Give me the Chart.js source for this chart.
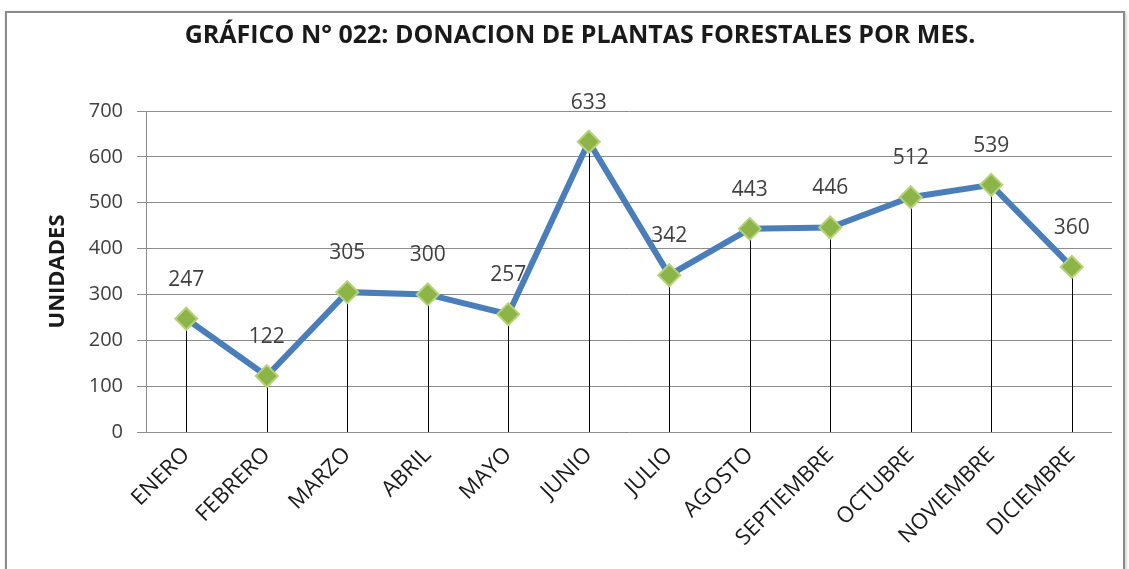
<!DOCTYPE html>
<html>
<head>
<meta charset="utf-8">
<script src="https://cdn.jsdelivr.net/npm/chart.js@4.4.1/dist/chart.umd.min.js"></script>
<style>
  html, body { margin: 0; padding: 0; background: #ffffff; }
  #wrap { position: relative; width: 1129px; height: 569px; overflow: hidden; }
  #frame { position: absolute; left: 5px; top: 11px; width: 1120px; height: 570px; border: 2px solid #8a8a8a; box-shadow: 1px 1px 3px rgba(0,0,0,0.25); box-sizing: border-box; }
  canvas { position: absolute; left: 0; top: 0; }
</style>
</head>
<body>
<div id="wrap">
  <div id="frame"></div>
  <canvas id="c" width="1129" height="569"></canvas>
</div>
<script>
const chartTitle = 'GRÁFICO N° 022: DONACION DE PLANTAS FORESTALES POR MES.';
const yAxisTitle = 'UNIDADES';
const months = ['ENERO','FEBRERO','MARZO','ABRIL','MAYO','JUNIO','JULIO','AGOSTO','SEPTIEMBRE','OCTUBRE','NOVIEMBRE','DICIEMBRE'];
const units = [247, 122, 305, 300, 257, 633, 342, 443, 446, 512, 539, 360];
const yTicks = [0, 100, 200, 300, 400, 500, 600, 700];

const FONT = "'Open Sans', 'Liberation Sans', sans-serif";

const dropLinesAndLabels = {
  id: 'dropLinesAndLabels',
  beforeDatasetsDraw(chart) {
    const ctx = chart.ctx;
    const meta = chart.getDatasetMeta(0);
    const yBase = chart.scales.y.getPixelForValue(0);
    ctx.save();
    ctx.strokeStyle = '#000000';
    ctx.lineWidth = 1;
    meta.data.forEach(pt => {
      const x = Math.round(pt.x) + 0.5;
      ctx.beginPath();
      ctx.moveTo(x, pt.y);
      ctx.lineTo(x, yBase);
      ctx.stroke();
    });
    ctx.restore();
  },
  afterDatasetsDraw(chart) {
    const ctx = chart.ctx;
    const meta = chart.getDatasetMeta(0);
    const vals = chart.data.datasets[0].data;
    ctx.save();
    ctx.font = "21px " + FONT;
    ctx.fillStyle = '#404040';
    ctx.textAlign = 'center';
    ctx.textBaseline = 'middle';
    meta.data.forEach((pt, i) => {
      ctx.fillText(String(vals[i]), pt.x, pt.y - 39);
    });
    ctx.restore();
  }
};

new Chart(document.getElementById('c'), {
  type: 'line',
  data: {
    labels: months,
    datasets: [{
      data: units,
      borderColor: '#4A7EBB',
      borderWidth: 6,
      tension: 0,
      pointStyle: 'rectRot',
      pointRadius: 11,
      pointHoverRadius: 11,
      pointBackgroundColor: '#8DB446',
      pointBorderColor: '#B5D37A',
      pointBorderWidth: 2
    }]
  },
  options: {
    responsive: false,
    animation: false,
    events: [],
    layout: { padding: { left: 48, right: 17, top: 0, bottom: 0 } },
    plugins: {
      legend: { display: false },
      tooltip: { enabled: false },
      title: {
        display: true,
        text: chartTitle,
        color: '#1a1a1a',
        font: { family: FONT, size: 25, weight: 'bold' },
        padding: { top: 21, bottom: 60 }
      }
    },
    scales: {
      x: {
        offset: true,
        grid: { display: false, drawTicks: false, offset: true },
        border: { display: false },
        ticks: {
          color: '#1a1a1a',
          font: { family: FONT, size: 22 },
          minRotation: 45,
          maxRotation: 45,
          padding: 10,
          autoSkip: false
        },
        afterFit(scale) { scale.height = 137; }
      },
      y: {
        min: 0,
        max: 700,
        afterBuildTicks(scale) { scale.ticks = yTicks.map(v => ({ value: v })); },
        grid: { color: '#8c8c8c', lineWidth: 1, drawTicks: true, tickLength: 9 },
        border: { display: true, color: '#8c8c8c', width: 1 },
        ticks: {
          color: '#404040',
          font: { family: FONT, size: 20 },
          padding: 14
        },
        title: {
          display: true,
          text: yAxisTitle,
          color: '#1a1a1a',
          font: { family: FONT, size: 22, weight: 'bold', lineHeight: 0.5 },
          padding: { top: 4, bottom: 0 }
        },
        afterFit(scale) { scale.width = 98; }
      }
    }
  },
  plugins: [dropLinesAndLabels]
});
</script>
</body>
</html>
